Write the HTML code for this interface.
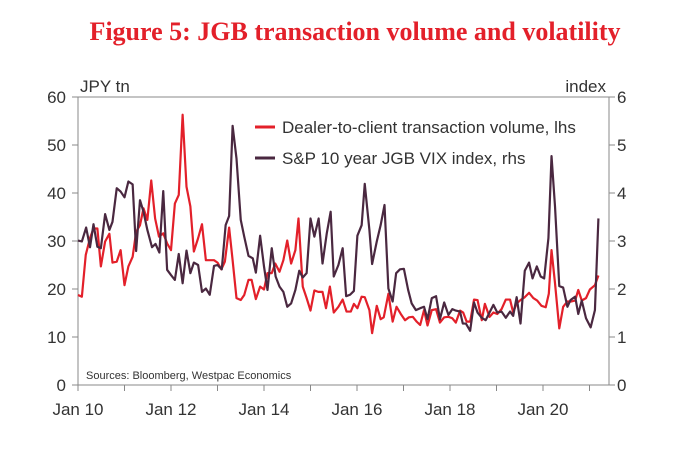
<!DOCTYPE html>
<html><head><meta charset="utf-8"><style>
body{margin:0;background:#fff;width:686px;height:453px;overflow:hidden;font-family:"Liberation Sans",sans-serif}
</style></head><body>
<svg width="686" height="453" xmlns="http://www.w3.org/2000/svg">
<text x="355" y="40" text-anchor="middle" font-family="Liberation Serif,serif" font-weight="bold" font-size="26" fill="#e3202a">Figure 5: JGB transaction volume and volatility</text>
<text x="80" y="92" font-size="17" fill="#333">JPY tn</text>
<text x="606" y="92" text-anchor="end" font-size="17" fill="#333">index</text>
<g id="axes"></g>
<g id="series"></g>
<g>
<line x1="255" y1="127" x2="275" y2="127" stroke="#e3202a" stroke-width="3"/>
<text x="282" y="133" font-size="17" fill="#333">Dealer-to-client transaction volume, lhs</text>
<line x1="255" y1="158" x2="275" y2="158" stroke="#4a2840" stroke-width="3"/>
<text x="282" y="164" font-size="17" fill="#333">S&amp;P 10 year JGB VIX index, rhs</text>
</g>
<text x="86" y="379" font-size="11" fill="#333">Sources: Bloomberg, Westpac Economics</text>
</svg>
<script>
const xTickLabels=["Jan 10","Jan 12","Jan 14","Jan 16","Jan 18","Jan 20"];
const leftTicks=[0,10,20,30,40,50,60];
const rightTicks=[0,1,2,3,4,5,6];
const volMonths=[0,1,2,3.1,4,5,5.9,7,8.1,8.9,10,11,12,13,14.1,15,16,16.9,17.9,18.9,19.9,20.9,22,23,24,25,26,27,28,29,29.9,31,32,33,34,35.1,36,37,37.9,39,39.9,40.9,42,42.9,44,44.8,45.9,47,48,48.9,50,50.9,52,53,54,55,56.1,56.9,58,59,60,61,62,63.1,64,65,66,67.2,68.3,69.3,70.4,71.2,72.1,73.2,74,75.2,75.9,77.1,78.1,78.9,80.1,81.2,82.2,83.3,84.4,85.4,86.4,87.4,88.3,89.3,90.2,91.3,92.4,93.4,94.5,95.6,96.6,97.5,98.6,99.4,100.3,101.2,102.2,103.1,104.2,105,106.2,107.2,108.2,109.3,110.4,111.5,112.3,113.2,114.2,115.3,116.4,117.5,118.5,119.6,120.7,121.5,122.2,123.1,124.2,125.2,126.3,127.3,128.3,129.1,130,131.1,132.1,133.4,134.3];
const volValues=[18.75,18.4,27.1,30.6,32.6,32.6,24.7,29.9,31.5,25.5,25.7,28.1,20.8,24.7,26.7,31.9,33.3,36.8,34.4,42.6,34.7,30.9,31.6,29.5,28.1,37.8,39.6,56.3,41.3,37.2,27.8,30.6,33.5,26,26,26,25.5,24.1,25.7,32.8,26,18.1,17.7,18.75,21.9,21.9,17.9,20.5,19.9,23.3,23.3,25.3,23.6,26,30.1,25.3,28.1,34.7,20.5,18.1,15.5,19.7,19.4,19.4,16,20.5,15.1,16.3,17.8,15.3,15.3,16.9,16,18.4,18.3,15.6,10.8,16.5,13.7,14.1,19,13.2,16.3,14.8,13.5,14.1,14.2,13.2,12.5,15.6,12.4,15.6,15.8,13,14.1,14.2,13.9,13,15.5,15.1,13.2,13.2,17.8,17.7,13.5,16.9,14.2,15.1,14.8,15.8,17.8,17.8,15.1,17,17.7,18.3,19.2,18.1,17.6,16.5,16.2,19,28.1,21.2,11.8,16.3,17.4,17.4,17.6,19.8,17.6,18.1,19.9,20.8,22.8];
const vixMonths=[0,1,2.1,3.1,4,5,5.9,7,8.1,8.9,10,11,12,13,14.1,15,16,16.9,17.9,19.1,20,21,22,23,24,25,26,27,28,29,29.9,31,32,33,34,35.1,36,37.1,38.1,39,39.9,40.9,42,42.9,44,45.1,45.9,47,48,48.9,50,51,52,53,54,55,56.1,57.1,58,59,60,61,62.1,63.1,64.2,65.2,66,67.2,68.3,69.2,70.2,71.2,72.1,73.2,74,75.2,75.9,77.1,78.1,79.1,80.1,81.2,82.1,83.1,84.1,85.2,86.1,87.2,88.3,89.3,90.2,91.3,92.4,93.4,94.5,95.6,96.6,97.5,98.6,99.3,100.1,101.2,102.2,103.1,104.2,105.2,106.2,107.2,108.2,109.3,110.4,111.5,112.3,113.2,114.2,115.3,116.4,117.3,118.4,119.4,120.3,121.4,122.2,123.1,124.2,125.2,126.3,127.1,128.3,129.1,130,131.1,132.3,133.4,134.3];
const vixValues=[3.01,2.99,3.28,2.87,3.35,2.88,2.85,3.56,3.23,3.4,4.1,4.03,3.91,4.24,4.18,2.79,3.85,3.61,3.23,2.87,2.94,2.76,4.04,2.4,2.29,2.19,2.73,2.12,2.8,2.33,2.55,2.5,1.94,2.01,1.88,2.48,2.5,2.41,3.33,3.52,5.4,4.72,3.44,3.09,2.69,2.64,2.34,3.11,2.47,1.98,2.85,2.26,2.05,1.94,1.63,1.7,1.98,2.38,2.24,2.33,3.47,3.09,3.47,2.53,3.16,3.61,2.26,2.5,2.85,1.85,1.88,1.96,3.11,3.33,4.19,3.23,2.52,2.99,3.33,3.75,2.01,1.74,2.33,2.41,2.42,1.98,1.7,1.56,1.6,1.63,1.37,1.81,1.85,1.37,1.72,1.46,1.58,1.55,1.53,1.28,1.28,1.13,1.72,1.51,1.4,1.35,1.51,1.67,1.51,1.53,1.4,1.53,1.44,1.83,1.28,2.38,2.55,2.22,2.47,2.26,2.22,3.06,4.77,3.72,2.06,2.03,1.63,1.77,1.84,1.48,1.76,1.39,1.2,1.56,3.47];
const X0=78,X1=609,Y0=385,Y1=97;
const xs=m=>X0+m*46.5/12;
const yl=v=>Y0-(v/60)*(Y0-Y1);
const yr=v=>Y0-(v/6)*(Y0-Y1);
const NS="http://www.w3.org/2000/svg";
function mk(tag,attrs,parent){const e=document.createElementNS(NS,tag);for(const k in attrs)e.setAttribute(k,attrs[k]);parent.appendChild(e);return e;}
const ax=document.getElementById('axes');
let box=mk('rect',{x:X0,y:Y1,width:X1-X0,height:Y0-Y1,fill:'none',stroke:'#888','stroke-width':1},ax);


leftTicks.forEach(v=>{
  mk('line',{x1:X0-6,x2:X0,y1:yl(v),y2:yl(v),stroke:'#888'},ax);
  const t=mk('text',{x:X0-12,y:yl(v)+6,'text-anchor':'end','font-size':17,fill:'#333'},ax);t.textContent=v;
  
  
});
rightTicks.forEach(v=>{
  mk('line',{x1:X1,x2:X1+6,y1:yr(v),y2:yr(v),stroke:'#888'},ax);
  const t=mk('text',{x:X1+8,y:yr(v)+6,'font-size':17,fill:'#333'},ax);t.textContent=v;
  
  
});
for(let y=0;y<=11;y++){mk('line',{x1:xs(y*12),x2:xs(y*12),y1:Y0,y2:Y0+6,stroke:'#888'},ax);}
xTickLabels.forEach((l,i)=>{
  const t=mk('text',{x:xs(i*24),y:Y0+30,'text-anchor':'middle','font-size':17,fill:'#333'},ax);t.textContent=l;
  
  
});
const sg=document.getElementById('series');
const p1=mk('polyline',{points:volMonths.map((m,i)=>xs(m)+','+yl(volValues[i])).join(' '),fill:'none',stroke:'#e3202a','stroke-width':2.2,'stroke-linejoin':'round'},sg);


const p2=mk('polyline',{points:vixMonths.map((m,i)=>xs(m)+','+yr(vixValues[i])).join(' '),fill:'none',stroke:'#4a2840','stroke-width':2.2,'stroke-linejoin':'round'},sg);


</script>
</body></html>
